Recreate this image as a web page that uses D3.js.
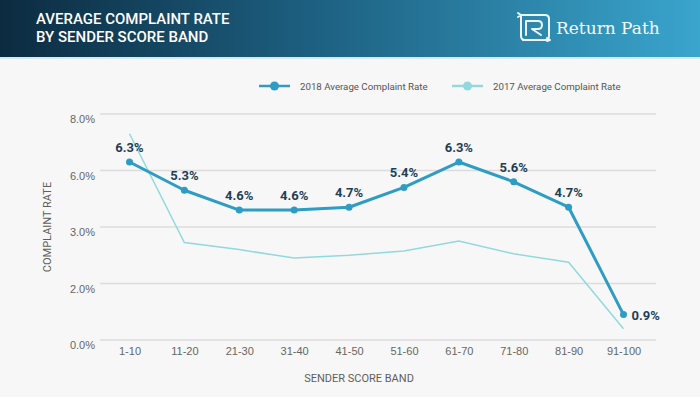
<!DOCTYPE html>
<html lang="en">
<head>
    <meta charset="UTF-8">
    <title>Average Complaint Rate by Sender Score Band</title>
    <script src="https://d3js.org/d3.v7.min.js"></script>
</head>
<body>

<style>
    body {
        margin: 0;
        background: #f7f7f7;
    }
    svg {
        display: block;
        font-family: Roboto, "Noto Sans", sans-serif;
    }
    .axis text {
        fill: #666;
        font-size: 11px;
    }
    .axis path, .axis line {
        display: none;
    }
    .grid line {
        stroke: #dcdcdc;
        stroke-width: 1.5;
    }
    .value-label {
        fill: #1d3f58;
        font-size: 13px;
        font-weight: 700;
    }
</style>

<script type="text/javascript">

    var categories = ["1-10", "11-20", "21-30", "31-40", "41-50", "51-60", "61-70", "71-80", "81-90", "91-100"];
    var rate2018 = [6.3, 5.3, 4.6, 4.6, 4.7, 5.4, 6.3, 5.6, 4.7, 0.9];
    var rate2017 = [7.3, 3.45, 3.2, 2.9, 3.0, 3.15, 3.5, 3.05, 2.75, 0.4];
    var yTicks = [0, 2, 4, 6, 8];
    var yTickLabels = ["0.0%", "2.0%", "3.0%", "6.0%", "8.0%"];
    var seriesNames = ["2018 Average Complaint Rate", "2017 Average Complaint Rate"];

    var width = 700, height = 397;
    var color2018 = "#2f9cc4", color2017 = "#92d9dd";

    var svg = d3.select("body").append("svg")
            .attr("width", width)
            .attr("height", height);

    // header band
    var defs = svg.append("defs");
    var grad = defs.append("linearGradient").attr("id", "hdr");
    grad.append("stop").attr("offset", "0%").attr("stop-color", "#0c2b40");
    grad.append("stop").attr("offset", "45%").attr("stop-color", "#1d6081");
    grad.append("stop").attr("offset", "100%").attr("stop-color", "#3aa5cd");

    svg.append("rect").attr("width", width).attr("height", height).attr("fill", "#f7f7f7");
    svg.append("rect").attr("width", width).attr("height", 57).attr("fill", "url(#hdr)");
    svg.append("rect").attr("y", 57).attr("width", width).attr("height", 2).attr("fill", "#d6e9f0");

    svg.append("text").attr("x", 36).attr("y", 24)
            .attr("fill", "#fff").style("font-size", "15px").style("font-weight", 500)
            .text("AVERAGE COMPLAINT RATE");
    svg.append("text").attr("x", 36).attr("y", 42)
            .attr("fill", "#fff").style("font-size", "15px").style("font-weight", 500)
            .text("BY SENDER SCORE BAND");

    // logo
    var logo = svg.append("g").attr("transform", "translate(517,12)")
            .attr("fill", "none").attr("stroke", "#eaf6fa").attr("stroke-width", 2)
            .attr("stroke-linecap", "round").attr("stroke-linejoin", "round");
    logo.append("path").attr("d", "M4,3 H28 Q32,3 32,7 V24 Q32,28 28,28 H6");
    logo.append("path").attr("d", "M4,3 V24 Q4,28 8,28");
    logo.append("path").attr("d", "M9,23 V9 H21 Q25,9 25,13 Q25,17 21,17 H15 L24,23");
    logo.append("path").attr("d", "M1,1 L4,3 L1,5");
    logo.append("path").attr("d", "M30,29 L33,28 L30,26");
    svg.append("text").attr("x", 556).attr("y", 34)
            .attr("fill", "#f2fafc")
            .style("font-family", "'DejaVu Serif', 'Liberation Serif', serif")
            .style("font-size", "17px").style("font-weight", 300)
            .text("Return Path");

    // scales
    var xScale = d3.scalePoint().domain(categories).range([129.5, 623.5]);
    var yScale = d3.scaleLinear().domain([0, 8]).range([340, 114]);

    // grid
    svg.append("g").attr("class", "grid")
            .selectAll("line").data(yTicks).enter().append("line")
            .attr("x1", 100).attr("x2", 656)
            .attr("y1", function(d){ return yScale(d); })
            .attr("y2", function(d){ return yScale(d); });

    var yAxis = d3.axisLeft(yScale).tickValues(yTicks).tickSize(0).tickPadding(0)
            .tickFormat(function(d, i){ return yTickLabels[i]; });
    svg.append("g").attr("class", "y axis")
            .attr("transform", "translate(95,5)")
            .call(yAxis);

    var xAxis = d3.axisBottom(xScale).tickSize(0).tickPadding(0);
    svg.append("g").attr("class", "x axis")
            .attr("transform", "translate(0,347)")
            .call(xAxis);

    svg.append("text").attr("x", 359).attr("y", 382)
            .attr("text-anchor", "middle").attr("fill", "#5e5e5e")
            .style("font-size", "11px")
            .text("SENDER SCORE BAND");
    svg.append("text")
            .attr("transform", "translate(51,227) rotate(-90)")
            .attr("text-anchor", "middle").attr("fill", "#5e5e5e")
            .style("font-size", "11px")
            .text("COMPLAINT RATE");

    var line = d3.line()
            .x(function(d, i){ return xScale(categories[i]); })
            .y(function(d){ return yScale(d); });

    svg.append("path").datum(rate2017)
            .attr("fill", "none").attr("stroke", color2017).attr("stroke-width", 1.5)
            .attr("d", line);

    svg.append("path").datum(rate2018)
            .attr("fill", "none").attr("stroke", color2018).attr("stroke-width", 3)
            .attr("stroke-linejoin", "round")
            .attr("d", line);

    svg.selectAll(".dot").data(rate2018).enter().append("circle")
            .attr("class", "dot")
            .attr("cx", function(d, i){ return xScale(categories[i]); })
            .attr("cy", function(d){ return yScale(d); })
            .attr("r", 3.5)
            .attr("fill", color2018);

    var last = rate2018.length - 1;
    svg.selectAll(".value-label").data(rate2018).enter().append("text")
            .attr("class", "value-label")
            .attr("x", function(d, i){ return i === last ? xScale(categories[i]) + 8 : xScale(categories[i]); })
            .attr("y", function(d, i){ return i === last ? yScale(d) + 5 : yScale(d) - 10; })
            .attr("text-anchor", function(d, i){ return i === last ? "start" : "middle"; })
            .text(function(d){ return d.toFixed(1) + "%"; });

    // legend
    var legend = svg.append("g").attr("class", "legend");
    var legendItems = [
        {name: seriesNames[0], color: color2018, x: 259},
        {name: seriesNames[1], color: color2017, x: 452}
    ];
    legendItems.forEach(function(item){
        legend.append("line")
                .attr("x1", item.x).attr("x2", item.x + 31)
                .attr("y1", 86).attr("y2", 86)
                .attr("stroke", item.color).attr("stroke-width", 2.5);
        legend.append("circle")
                .attr("cx", item.x + 15.5).attr("cy", 86).attr("r", 4.5)
                .attr("fill", item.color);
        legend.append("text")
                .attr("x", item.x + 41).attr("y", 89.5)
                .attr("fill", "#555").style("font-size", "9.7px")
                .text(item.name);
    });

</script>

</body>
</html>
